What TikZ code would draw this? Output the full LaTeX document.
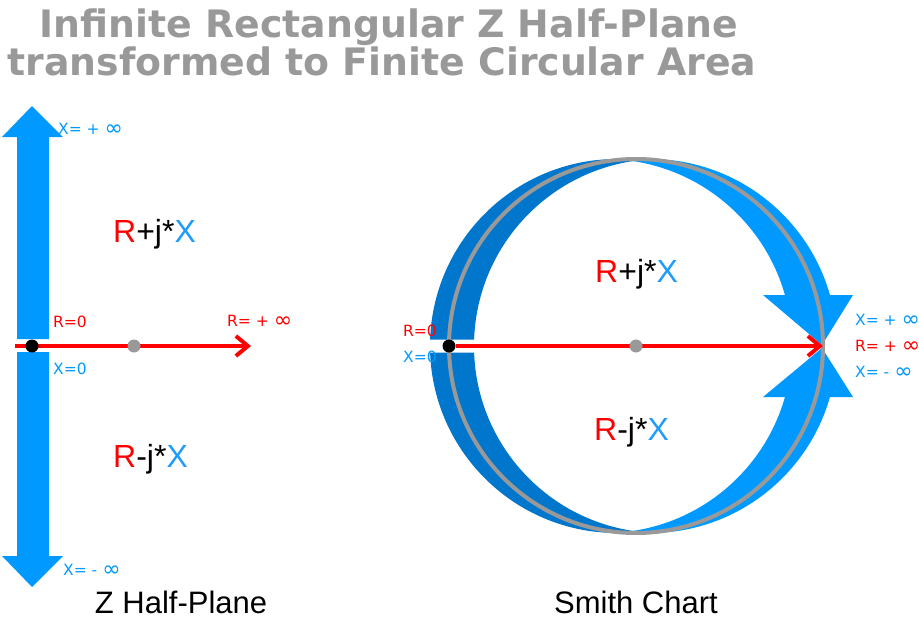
\documentclass[tikz,border=0pt]{standalone}
\usepackage{fontspec}
\setmainfont{Liberation Sans}
\newfontfamily\vfont{DejaVu Sans}
\usetikzlibrary{arrows.meta}
\definecolor{lightblue}{HTML}{0099FF}
\definecolor{darkblue}{HTML}{0077CC}
\definecolor{ringgray}{HTML}{999999}
\definecolor{textblue}{HTML}{1E9BFF}
\newcommand{\bigInf}{\raisebox{-1.5pt}{\fontsize{22}{22}\selectfont ∞}}

\begin{document}
\begin{tikzpicture}[x=1pt,y=-1pt,
  titletext/.style={inner sep=0pt,anchor=base,text=ringgray,font=\vfont\bfseries\fontsize{37.8}{38}\selectfont},
  lbl/.style={inner sep=0pt,anchor=base west,font=\vfont\fontsize{15.5}{15.5}\selectfont},
  big/.style={inner sep=0pt,anchor=base west,font=\fontsize{32}{32}\selectfont},
  caption/.style={inner sep=0pt,anchor=base,font=\fontsize{31}{31}\selectfont},
  pointdot/.style={circle,inner sep=0pt,minimum size=13pt},
  redline/.style={red,line width=4pt,-{Straight Barb[length=12pt,width=20pt]}}]
  \useasboundingbox (0,0) rectangle (919,621);

  \node[titletext] (title1) at (389,37) {Infinite Rectangular Z Half-Plane};
  \node[titletext] (title2) at (382,75) {transformed to Finite Circular Area};

  % Z half-plane
  \begin{scope}
    \fill[lightblue] (17,339) -- (17,137) -- (2,137) -- (32,106) -- (63,137) -- (49,137) -- (49,339) -- cycle;
    \fill[lightblue] (17,352) -- (17,556) -- (2,556) -- (32,587) -- (63,556) -- (49,556) -- (49,352) -- cycle;
    \coordinate (zstart) at (15,346);
    \coordinate (zend) at (251,346);
    \draw[redline] (zstart) -- (zend);
    \node[pointdot,fill=black] (zorigin) at (32,346) {};
    \node[pointdot,fill=ringgray] (zmid) at (134,346) {};
    \node[lbl,text=lightblue] (zxpinf) at (58,134) {X= + \bigInf};
    \node[lbl,text=red] (zrzero) at (53,327) {R=0};
    \node[lbl,text=lightblue] (zxzero) at (53,374) {X=0};
    \node[lbl,text=red] (zrinf) at (227,326) {R= + \bigInf};
    \node[lbl,text=lightblue] (zxminf) at (63,575) {X= - \bigInf};
    \node[big] (zupper) at (113,242) {\textcolor{red}{R}+j*\textcolor{textblue}{X}};
    \node[big] (zlower) at (113,467) {\textcolor{red}{R}-j*\textcolor{textblue}{X}};
    \node[caption] (zcap) at (181,613) {Z Half-Plane};
  \end{scope}

  % Smith chart
  \begin{scope}
    % crescents: two equal circles shifted sideways
    \begin{scope}
      \clip (400,140) rectangle (639,339.5) (400,352.5) rectangle (639,560);
      \fill[darkblue,even odd rule] (617,346) circle [radius=187pt] (661,346) circle [radius=187pt];
    \end{scope}
    \begin{scope}
      \clip (627.5,140) rectangle (870,295) (627.5,397) rectangle (870,560);
      \fill[lightblue,even odd rule] (650,346) circle [radius=187pt] (605,346) circle [radius=187pt];
    \end{scope}
    \fill[lightblue] (763,295) -- (853,295) -- (822,345) -- cycle;
    \fill[lightblue] (763,397) -- (853,397) -- (822,348) -- cycle;
    \node[circle,draw=ringgray,line width=4pt,inner sep=0pt,outer sep=0pt,minimum size=374pt] (smith) at (636,346) {};
    \node[pointdot,fill=black] (sorigin) at (smith.west) {};
    \draw[redline] (sorigin) -- (smith.east);
    \node[pointdot,fill=ringgray] (smid) at (smith.center) {};
    \node[lbl,text=red] (srzero) at (403,336) {R=0};
    \node[lbl,text=lightblue] (sxzero) at (403,362) {X=0};
    \node[lbl,text=lightblue] (sxpinf) at (855,325) {X= + \bigInf};
    \node[lbl,text=red] (srinf) at (855,351) {R= + \bigInf};
    \node[lbl,text=lightblue] (sxminf) at (855,377) {X= -\hspace{5pt}\bigInf};
    \node[big] (supper) at (595,282) {\textcolor{red}{R}+j*\textcolor{textblue}{X}};
    \node[big] (slower) at (594,440) {\textcolor{red}{R}-j*\textcolor{textblue}{X}};
    \node[caption] (scap) at (636,613) {Smith Chart};
  \end{scope}
\end{tikzpicture}
\end{document}
